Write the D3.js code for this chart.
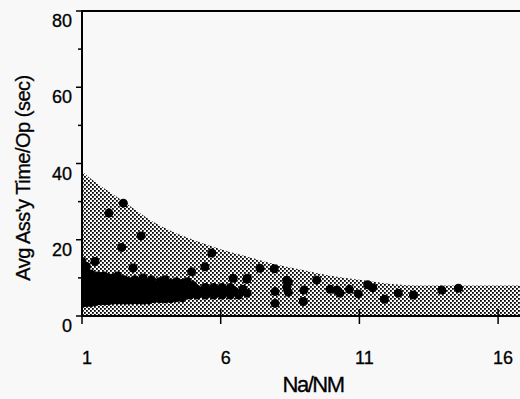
<!DOCTYPE html>
<html><head><meta charset="utf-8">
<script src="https://cdn.jsdelivr.net/npm/d3@7/dist/d3.min.js"></script>
<style>html,body{margin:0;padding:0;background:#f8f8f8;}svg{display:block;}text{font-family:"Liberation Sans",Arial,sans-serif;fill:#000;stroke:#000;stroke-width:0.3px;}</style>
</head><body><svg id="c" width="520" height="399"></svg>
<script>
const xTicks = [1, 6, 11, 16];
const yTicks = [0, 20, 40, 60, 80];
const yMinorTicks = [10, 30, 50, 70];
const xLabel = "Na/NM";
const yLabel = "Avg Ass'y Time/Op (sec)";

// upper boundary of shaded envelope
const envelopeX = [1, 1.5, 2, 2.5, 3, 3.5, 4, 5, 6, 7, 8, 9, 10, 11, 12, 13, 14, 15, 16, 17];
const envelopeY = [38, 35, 32.5, 30, 27.5, 25, 23, 20, 17.5, 15.5, 13.5, 12, 10.5, 9.5, 8.5, 8, 8, 8, 8, 8];

// dense cluster columns
const clusterX = [1.0,1.08,1.16,1.24,1.32,1.4,1.48,1.56,1.64,1.72,1.8,1.88,1.96,2.04,2.12,2.2,2.28,2.36,2.44,2.52,2.6,2.7,2.8,2.9,3.0,3.1,3.2,3.3,3.4,3.5,3.6,3.7,3.8,3.9,4.0,4.1,4.2,4.3,4.4,4.5,4.6,4.7,4.8,4.9,5.0,5.15,5.3,5.45,5.6,5.75,5.9,6.05,6.2,6.35,6.5,6.65,6.8,6.95];
const clusterY = [
 [3.3,5,7,9,11,13,14.3],[4,6,8,10,12.5],[3.5,5.5,7.5,9.5,11.5,13],[4.5,6.5,8.5,10.5],[3.5,5.5,7.5,9.5,11],
 [4.5,6.5,8.5,10],[3.8,5.5,7.5,9.5],[4.5,6.5,8.5,10.5],[4,6,8,10],[5,7,9],
 [4,6,8,10.5],[5,7,9],[4,6,8,10],[5,7,9],[4.2,6,8,10],
 [5,7,9],[4.2,6,8,10.5],[5,7,9],[4.2,6,8],[5,7,9.5],
 [4.2,6,8],[5,7,9],[4.2,6,8],[5,7,9.5],[4.2,6,8],
 [5,7,9],[4.2,6,8,10],[5,7],[4.2,6,8.5],[5,7,9.5],
 [4.5,6,8],[5.5,7.5],[4.5,6.5,9],[5.5,7.5],[4.5,6.5,9.5],
 [5.5,7.5],[4.5,6.5,8.5],[5.5,7.5],[4.8,6.5,9],[5.5,7.5],
 [4.8,6.5,8.5],[5.5,7.5],[6.5,9],[5.5],[6.5,8],
 [5.5,7],[6.5],[5.5,7.5],[6.5],[5.5,7.5],
 [6.5],[5.5,7.5],[6.5],[5.5,7.5],[6.5],
 [5.5],[7],[6]
];

// scattered points
const scatterX = [2.49,1.97,3.13,2.43,1.47,5.68,5.43,4.95,6.45,6.96,7.42,7.93,6.94,8.44,8.44,9.0,9.94,10.64,11.3,11.48,10.96,10.3,12.4,12.95,13.97,14.57,11.9,7.96,7.96,8.98,8.38,8.38,9.46,2.84,10.2];
const scatterY = [29.6,27.0,21.0,18.0,14.3,16.5,12.9,11.6,9.9,9.9,12.5,12.4,9.6,8.9,6.2,6.8,7.0,7.0,8.2,7.4,5.8,6.0,6.0,5.5,6.8,7.3,4.4,3.3,6.4,3.8,9.4,7.6,9.4,12.6,6.8];

const svg = d3.select("#c");
const x = d3.scaleLinear().domain([1, 17]).range([82, 82 + 16 * 27.74]);
const y = d3.scaleLinear().domain([0, 80]).range([316, 11]);

const defs = svg.append("defs");
const pat = defs.append("pattern").attr("id", "stip").attr("patternUnits", "userSpaceOnUse")
  .attr("width", 4).attr("height", 4);
pat.append("rect").attr("x", 0).attr("y", 0).attr("width", 1.8).attr("height", 1.8).attr("fill", "#000");
pat.append("rect").attr("x", 2).attr("y", 2).attr("width", 1.8).attr("height", 1.8).attr("fill", "#000");
defs.append("clipPath").attr("id", "clip").append("rect")
  .attr("x", x(1)).attr("y", y(80)).attr("width", x(17) - x(1)).attr("height", y(0) - y(80));

const g = svg.append("g").attr("clip-path", "url(#clip)");
const env = envelopeX.map((v, i) => [v, envelopeY[i]]);
g.append("path").datum(env)
  .attr("fill", "url(#stip)")
  .attr("d", d3.area().x(d => x(d[0])).y0(y(0)).y1(d => y(d[1])).curve(d3.curveMonotoneX));

const pts = [];
clusterX.forEach((cx, i) => clusterY[i].forEach(cy => pts.push([cx, cy])));
scatterX.forEach((sx, i) => pts.push([sx, scatterY[i]]));
g.selectAll("circle").data(pts).join("circle")
  .attr("cx", d => x(d[0])).attr("cy", d => y(d[1])).attr("r", 4.5).attr("fill", "#000");

// frame
svg.append("line").attr("x1", x(1)).attr("x2", 520).attr("y1", y(80)).attr("y2", y(80)).attr("stroke", "#000").attr("stroke-width", 2);
svg.append("line").attr("x1", x(1)).attr("x2", x(1)).attr("y1", y(80) - 1).attr("y2", y(0) + 1).attr("stroke", "#000").attr("stroke-width", 2);
svg.append("line").attr("x1", x(1) - 1).attr("x2", 520).attr("y1", y(0)).attr("y2", y(0)).attr("stroke", "#000").attr("stroke-width", 2);

// y ticks
yTicks.forEach(t => {
  svg.append("line").attr("x1", x(1) - 6).attr("x2", x(1)).attr("y1", y(t)).attr("y2", y(t)).attr("stroke", "#000").attr("stroke-width", 1.5);
  svg.append("text").attr("x", 72).attr("y", y(t) + 16).attr("text-anchor", "end").attr("font-size", 18).text(t);
});
yMinorTicks.forEach(t => {
  svg.append("line").attr("x1", x(1) - 4).attr("x2", x(1)).attr("y1", y(t)).attr("y2", y(t)).attr("stroke", "#000").attr("stroke-width", 1.5);
});
// x ticks
xTicks.forEach(t => {
  svg.append("line").attr("x1", x(t)).attr("x2", x(t)).attr("y1", y(0) - 7).attr("y2", y(0) + 8).attr("stroke", "#000").attr("stroke-width", 1.5);
  svg.append("text").attr("x", x(t) + 5).attr("y", 364).attr("text-anchor", "middle").attr("font-size", 18).text(t);
});

svg.append("text").attr("x", 313).attr("y", 392).attr("text-anchor", "middle").attr("font-size", 22).attr("letter-spacing", -1.5).text(xLabel);
svg.append("text").attr("transform", "translate(30,178) rotate(-90)").attr("text-anchor", "middle").attr("font-size", 20).attr("letter-spacing", -0.5).text(yLabel);
</script></body></html>
